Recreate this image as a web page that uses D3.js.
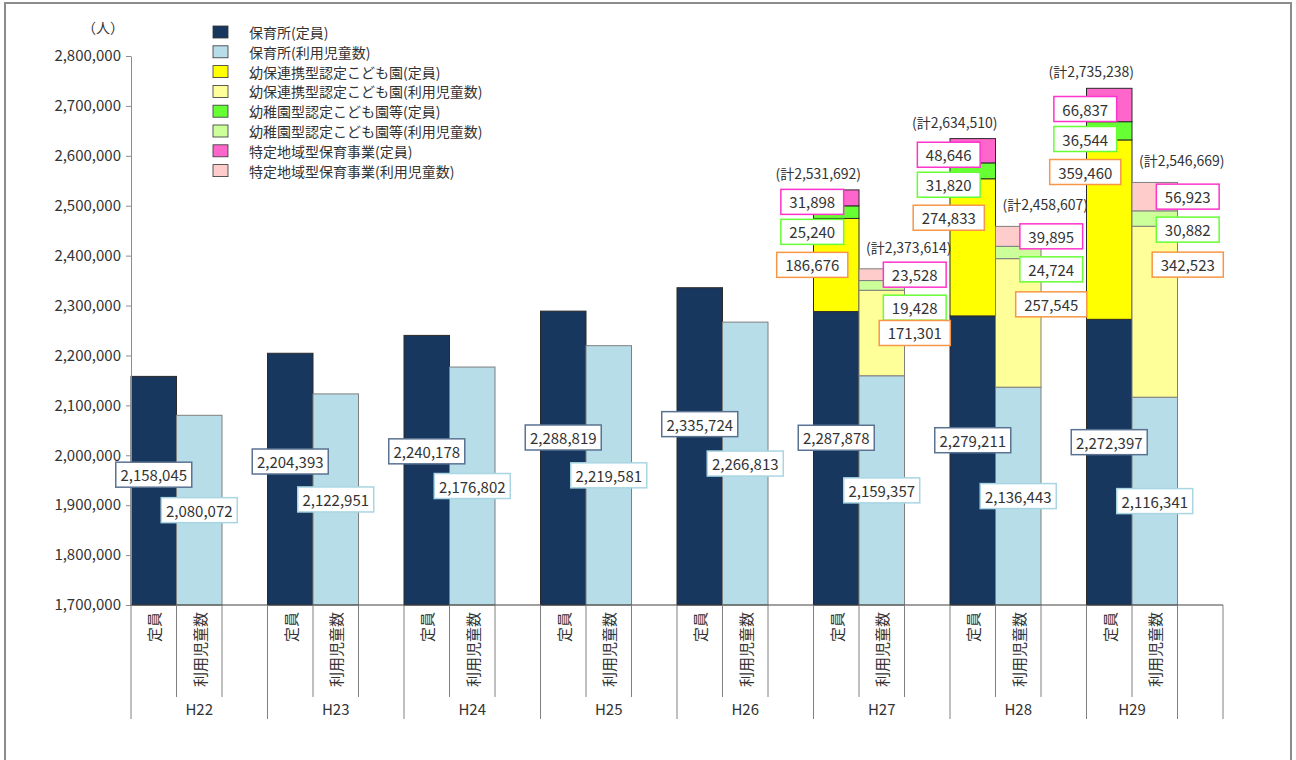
<!DOCTYPE html>
<html><head><meta charset="utf-8">
<script src="https://cdn.jsdelivr.net/npm/d3@7"></script>
<style>
html,body{margin:0;padding:0;background:#fff;}
text{font-family:"Noto Sans CJK JP","Noto Sans",sans-serif;fill:#333;}
</style></head>
<body>
<svg id="chart" width="1296" height="760"></svg>
<script>
// ---- data ----
const years = ["H22","H23","H24","H25","H26","H27","H28","H29"];
const nurseryCapacity = [2158045,2204393,2240178,2288819,2335724,2287878,2279211,2272397];
const nurseryUsers    = [2080072,2122951,2176802,2219581,2266813,2159357,2136443,2116341];
const stackYears = ["H27","H28","H29"];
const yohoCapacity   = [186676,274833,359460];
const yohoUsers      = [171301,257545,342523];
const kinderCapacity = [25240,31820,36544];
const kinderUsers    = [19428,24724,30882];
const localCapacity  = [31898,48646,66837];
const localUsers     = [23528,39895,56923];
const yTicks = [1700000,1800000,1900000,2000000,2100000,2200000,2300000,2400000,2500000,2600000,2700000,2800000];
const kindLabels = ["定員","利用児童数"];
const legendNames = ["保育所(定員)","保育所(利用児童数)","幼保連携型認定こども園(定員)","幼保連携型認定こども園(利用児童数)","幼稚園型認定こども園等(定員)","幼稚園型認定こども園等(利用児童数)","特定地域型保育事業(定員)","特定地域型保育事業(利用児童数)"];
const unitLabel = "（人）";

// ---- styles ----
const capColors = ["#17375E","#FFFF00","#66FF33","#FF66CC"];
const useColors = ["#B7DDE8","#FFFF99","#CCFF99","#FFCCCC"];
const labelBorders = [null,"#F79646","#66FF33","#FF33CC"];

const svg = d3.select("#chart");
svg.append("rect").attr("x",5).attr("y",3).attr("width",1286).attr("height",800)
  .attr("fill","none").attr("stroke","#8c8c8c").attr("stroke-width",2);

// build slots
const slots = [];
years.forEach((y,i)=>{
  slots.push(y+"|cap"); slots.push(y+"|use");
  if(i<years.length-1) slots.push(y+"|blank");
});
slots.push("end|blank");

const x = d3.scaleBand().domain(slots).range([131,1223]).padding(0);
const y = d3.scaleLinear().domain([1700000,2800000]).range([605,56]);

// segments per bar
function extra(arr, yr){ const k = stackYears.indexOf(yr); return k<0?0:arr[k]; }
const bars = [];
years.forEach((yr,i)=>{
  bars.push({year:yr, kind:"cap", vals:[nurseryCapacity[i], extra(yohoCapacity,yr), extra(kinderCapacity,yr), extra(localCapacity,yr)], colors:capColors});
  bars.push({year:yr, kind:"use", vals:[nurseryUsers[i], extra(yohoUsers,yr), extra(kinderUsers,yr), extra(localUsers,yr)], colors:useColors});
});
bars.forEach(b=>{
  let acc = 0;
  b.segs = b.vals.map((v,k)=>{ const s={k, v, y0:acc, y1:acc+v, color:b.colors[k]}; acc+=v; return s; });
  b.total = acc;
  b.cx = x(b.year+"|"+b.kind) + x.bandwidth()/2;
});

// bars
const gBars = svg.append("g");
bars.forEach(b=>{
  gBars.selectAll(null).data(b.segs.filter(s=>s.v>0)).enter().append("rect")
    .attr("x", x(b.year+"|"+b.kind))
    .attr("width", x.bandwidth())
    .attr("y", s=>y(Math.max(s.y1, 1700000)))
    .attr("height", s=>y(Math.max(s.y0,1700000)) - y(s.y1))
    .attr("fill", s=>s.color)
    .attr("stroke", b.kind==="cap" ? "#2a2a2a" : "#7f7f7f")
    .attr("stroke-width", 1);
});

// y axis
const yAxis = d3.axisLeft(y).tickValues(yTicks).tickFormat(d3.format(",")).tickSize(5).tickSizeOuter(0).tickPadding(5);
const gy = svg.append("g").attr("transform","translate(131,0)").call(yAxis);
gy.select(".domain").attr("stroke","#8c8c8c");
gy.selectAll(".tick line").attr("stroke","#8c8c8c");
gy.selectAll(".tick text").attr("font-size",15).attr("fill","#404040")
  .style("font-family",'"Noto Sans CJK JP",sans-serif');
svg.append("text").attr("x",103).attr("y",27).attr("text-anchor","middle")
  .attr("dominant-baseline","central").attr("font-size",14).attr("fill","#404040").text(unitLabel);

// category axis
const gx = svg.append("g");
gx.append("line").attr("x1",131).attr("x2",1223).attr("y1",605).attr("y2",605).attr("stroke","#404040");
const groups = years.map((yr,i)=>{
  const s = slots.filter(d=>d.startsWith(yr+"|"));
  const x0 = x(s[0]), x1 = x(s[s.length-1]) + x.bandwidth();
  return {yr, x0, x1, inner:s.slice(1).map(d=>x(d))};
});
const groupEdges = new Set();
groups.forEach(g=>{ groupEdges.add(g.x0); groupEdges.add(g.x1); });
groupEdges.add(x("end|blank")+x.bandwidth());
[...groupEdges].forEach(xe=>{
  gx.append("line").attr("x1",xe).attr("x2",xe).attr("y1",605).attr("y2",719).attr("stroke","#808080");
});
groups.forEach(g=>{
  g.inner.forEach(xi=>{
    gx.append("line").attr("x1",xi).attr("x2",xi).attr("y1",605).attr("y2",697).attr("stroke","#808080");
  });
  gx.append("text").attr("x",(g.x0+g.x1)/2).attr("y",708).attr("text-anchor","middle")
    .attr("dominant-baseline","central").attr("font-size",15).attr("fill","#404040").text(g.yr);
});
bars.forEach(b=>{
  gx.append("text").attr("transform",`translate(${b.cx},612) rotate(-90)`)
    .attr("text-anchor","end").attr("dominant-baseline","central")
    .attr("font-size",15).attr("fill","#404040")
    .text(kindLabels[b.kind==="cap"?0:1]);
});

// label helper
const fmt = d3.format(",");
function boxLabel(cx, cy, txt, border, fixedW){
  const g = svg.append("g");
  const t = g.append("text").attr("x",cx).attr("y",cy).attr("text-anchor","middle")
    .attr("dominant-baseline","central").attr("font-size",15).attr("fill","#333").text(txt);
  const w = fixedW || (t.node().getComputedTextLength()+17);
  g.insert("rect","text").attr("x",cx-w/2).attr("y",cy-12.5).attr("width",w).attr("height",25)
    .attr("fill","#fff").attr("stroke",border).attr("stroke-width",1.5);
}

// nursery value labels
bars.forEach(b=>{
  const top = y(b.segs[0].y1), bot = y(1700000);
  const frac = b.kind==="cap" ? 0.43 : 0.5;
  const cy = top + frac*(bot-top);
  boxLabel(b.cx, cy, fmt(b.segs[0].v), b.kind==="cap" ? "#5b7393" : "#a9d6e3", 76);
});

// stacked segment labels and totals
bars.filter(b=>stackYears.includes(b.year)).forEach(b=>{
  const mid = k => (y(b.segs[k].y0)+y(b.segs[k].y1))/2;
  const isCap = b.kind==="cap";
  const pinkY = mid(3) + (isCap?4:0);
  const greenY = Math.max(mid(2), pinkY + (isCap?30:33));
  const orangeY = Math.min(mid(1), greenY + (isCap?33:35));
  const lx = b.cx + (isCap ? -24 : 33);
  boxLabel(lx, pinkY, fmt(b.segs[3].v), labelBorders[3]);
  boxLabel(lx, greenY, fmt(b.segs[2].v), labelBorders[2]);
  boxLabel(lx, orangeY, fmt(b.segs[1].v), labelBorders[1]);
  const top = y(b.total);
  svg.append("text").attr("x", b.cx + (isCap?-18:27)).attr("y", top - (isCap?17:22))
    .attr("text-anchor","middle").attr("dominant-baseline","central")
    .attr("font-size",14).attr("fill","#333").text("(計"+fmt(b.total)+")");
});

// legend
const legendColors = [];
capColors.forEach((c,i)=>{ legendColors.push(c); legendColors.push(useColors[i]); });
const lg = svg.append("g");
legendNames.forEach((n,i)=>{
  const cy = 32 + i*19.8;
  lg.append("rect").attr("x",213).attr("y",cy-6).attr("width",15).attr("height",12)
    .attr("fill",legendColors[i]).attr("stroke","#333").attr("stroke-width",0.8);
  lg.append("text").attr("x",249).attr("y",cy).attr("dominant-baseline","central")
    .attr("font-size",14).attr("fill","#333").text(n);
});
</script>
</body></html>
